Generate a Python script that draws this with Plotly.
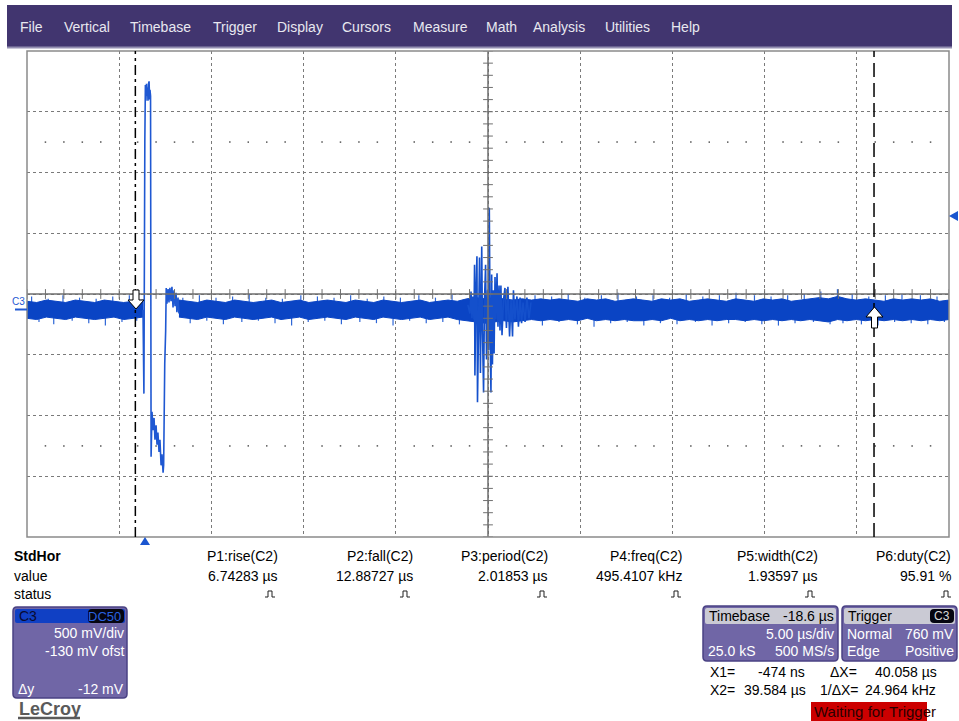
import numpy as np
import plotly.graph_objects as go

W, H = 959, 721

# ---------------- data ----------------
t_range = [-6.35, 43.65]          # µs, 5 µs/div, 10 div
v_range = [-1.87, 2.13]           # V, 500 mV/div, -130 mV offset
v_center = 0.13
t_center = 18.65

# baseline noise core envelope before the pulse
hi_A = [0.07, 0.06, 0.08, 0.07, 0.06, 0.08, 0.07, 0.06, 0.08, 0.07, 0.06, 0.07, 0.08]
lo_A = [-0.07, -0.08, -0.06, -0.07, -0.08, -0.06, -0.07, -0.08, -0.07, -0.06, -0.08, -0.07, -0.06]
tA_start, tA_end = -6.35, -0.06

# baseline noise core envelope after the pulse
hi_B = [0.08, 0.07, 0.06, 0.08, 0.07, 0.06, 0.08, 0.07, 0.06, 0.07,
        0.08, 0.06, 0.07, 0.08, 0.06, 0.07, 0.08, 0.07, 0.06, 0.08,
        0.07, 0.06, 0.08, 0.07, 0.06, 0.07, 0.08, 0.06, 0.07, 0.08,
        0.07, 0.09, 0.10, 0.09, 0.10, 0.09, 0.08, 0.09, 0.08, 0.09,
        0.08, 0.09, 0.08, 0.07, 0.09, 0.08, 0.09, 0.07, 0.08, 0.09,
        0.08, 0.07, 0.09, 0.08, 0.09, 0.07, 0.08, 0.09, 0.08, 0.07,
        0.09, 0.08, 0.07, 0.09, 0.08, 0.09, 0.07, 0.08, 0.09, 0.10,
        0.09, 0.11, 0.09, 0.08, 0.09, 0.08, 0.07, 0.09, 0.08, 0.09,
        0.08, 0.09, 0.07, 0.08]
lo_B = [-0.06, -0.07, -0.08, -0.06, -0.07, -0.08, -0.06, -0.07, -0.08, -0.07,
        -0.06, -0.08, -0.07, -0.06, -0.08, -0.07, -0.06, -0.07, -0.08, -0.06,
        -0.07, -0.08, -0.06, -0.07, -0.08, -0.07, -0.06, -0.08, -0.07, -0.06,
        -0.08, -0.09, -0.10, -0.11, -0.10, -0.09, -0.10, -0.09, -0.08, -0.09,
        -0.08, -0.09, -0.08, -0.09, -0.07, -0.09, -0.08, -0.09, -0.08, -0.09,
        -0.09, -0.08, -0.09, -0.07, -0.09, -0.08, -0.09, -0.08, -0.09, -0.08,
        -0.08, -0.09, -0.08, -0.09, -0.08, -0.09, -0.08, -0.09, -0.08, -0.09,
        -0.10, -0.08, -0.09, -0.08, -0.09, -0.08, -0.09, -0.08, -0.09, -0.08,
        -0.09, -0.08, -0.09, -0.08]
tB_start, tB_end = 1.89, 43.65

# individual noise spikes poking out of the band
spike_t = [-6.1, -5.7, -5.2, -4.9, -4.4, -3.9, -3.5, -3.0, -2.6, -2.1, -1.7, -1.2, -0.8, -0.4,
           2.1, 2.5, 3.0, 3.4, 3.9, 4.3, 4.8, 5.3, 5.7, 6.2, 6.6, 7.1, 7.5, 8.0, 8.5, 8.9, 9.4,
           9.8, 10.3, 10.7, 11.2, 11.7, 12.1, 12.6, 13.0, 13.5, 13.9, 14.4, 14.9, 15.3, 15.8,
           16.2, 16.7, 17.1,
           21.2, 21.6, 22.1, 22.5, 23.0, 23.5, 23.9, 24.4, 24.8, 25.3, 25.7, 26.2, 26.7, 27.1,
           27.6, 28.0, 28.5, 28.9, 29.4, 29.9, 30.3, 30.8, 31.2, 31.7, 32.1, 32.6, 33.1, 33.5,
           34.0, 34.4, 34.9, 35.3, 35.8, 36.3, 36.7, 37.2, 37.6, 37.9, 38.4, 38.9, 39.3, 39.8,
           40.2, 40.7, 41.1, 41.6, 42.1, 42.5, 43.0, 43.4]
spike_v = [0.11, -0.10, 0.09, -0.12, 0.12, -0.09, 0.10, -0.11, 0.09, -0.13, 0.11, -0.10, 0.12, -0.09,
           0.10, -0.11, 0.12, -0.09, 0.10, -0.12, 0.11, -0.10, 0.13, -0.09, 0.10, -0.11, 0.09,
           -0.13, 0.12, -0.10, 0.11, -0.09, 0.10, -0.12, 0.12, -0.10, 0.09, -0.11, 0.11, -0.13,
           0.10, -0.09, 0.12, -0.11, 0.10, -0.10, 0.13, -0.12,
           0.12, -0.13, 0.11, -0.10, 0.13, -0.12, 0.10, -0.14, 0.12, -0.11, 0.14, -0.10, 0.11,
           -0.13, 0.12, -0.11, 0.10, -0.12, 0.13, -0.10, 0.11, -0.13, 0.12, -0.11, 0.14, -0.10,
           0.12, -0.12, 0.11, -0.13, 0.12, -0.11, 0.13, -0.10, 0.15, -0.12, 0.17, -0.11, 0.13,
           -0.12, 0.11, -0.13, 0.12, -0.10, 0.13, -0.11, 0.12, -0.12, 0.11, -0.10]

# main pulse around the trigger
pulse_t = [-0.06, -0.01, 0.04, 0.07, 0.10, 0.13, 0.16, 0.19, 0.21, 0.24, 0.27, 0.30, 0.32, 0.35,
           0.38, 0.43, 0.48, 0.54, 0.59, 0.65, 0.70, 0.75, 0.81, 0.86, 0.92, 0.97, 1.03, 1.06,
           1.09, 1.12, 1.17, 1.20, 1.24, 1.30, 1.35, 1.40, 1.46, 1.51, 1.57, 1.62, 1.68, 1.73,
           1.78, 1.84, 1.89]
pulse_v = [0.00, -0.69, 1.38, 1.85, 1.72, 1.86, 1.76, 1.83, 1.72, 1.86, 1.88, 1.73, 1.81, 1.76,
           -1.21, -0.84, -0.99, -0.89, -1.07, -0.95, -1.11, -1.01, -1.17, -1.07, -1.28, -1.19, -1.34, -1.28,
           -0.80, -0.44, -0.17, 0.18, 0.05, 0.17, 0.06, 0.18, 0.07, 0.19, 0.02, 0.16, 0.03, 0.14,
           -0.02, 0.10, -0.03]

# ringing burst near the screen centre
ring_t = [17.56, 17.67, 17.73, 17.78, 17.83, 17.89, 17.92, 17.94, 18.00, 18.05, 18.08, 18.13, 18.19,
          18.24, 18.28, 18.31, 18.35, 18.41, 18.46, 18.52, 18.57, 18.63, 18.68, 18.72, 18.77, 18.81,
          18.85, 18.89, 18.94, 18.98, 19.03, 19.08, 19.14, 19.19, 19.25, 19.30, 19.35, 19.41, 19.49,
          19.57, 19.65, 19.73, 19.82, 19.90, 19.98, 20.03, 20.11, 20.22, 20.30, 20.39, 20.47, 20.55,
          20.66, 20.76, 20.87, 20.98]
ring_v = [0.04, -0.03, 0.15, -0.07, 0.11, -0.08, 0.37, -0.54, 0.16, 0.44, -0.76, 0.08, 0.43,
          -0.52, 0.08, 0.52, -0.17, -0.68, 0.08, 0.37, -0.41, 0.16, -0.33, 0.84, -0.25, -0.68,
          0.29, -0.45, 0.16, -0.36, 0.27, -0.08, 0.30, -0.14, 0.20, -0.17, 0.20, -0.21, 0.08,
          0.18, -0.15, 0.19, -0.22, 0.08, -0.22, 0.16, -0.08, 0.11, -0.14, 0.10, -0.11, 0.06,
          -0.10, 0.10, -0.07, 0.06]

cursor_x1 = -0.474
cursor_x2 = 39.584
trigger_level = 0.76

menu_items = ["File", "Vertical", "Timebase", "Trigger", "Display", "Cursors", "Measure",
              "Math", "Analysis", "Utilities", "Help"]
menu_x = [18, 62, 128, 211, 275, 340, 411, 484, 531, 603, 669]

meas_names = ["P1:rise(C2)", "P2:fall(C2)", "P3:period(C2)", "P4:freq(C2)", "P5:width(C2)", "P6:duty(C2)"]
meas_values = ["6.74283 µs", "12.88727 µs", "2.01853 µs", "495.4107 kHz", "1.93597 µs", "95.91 %"]
meas_right = [280, 415, 550, 684, 820, 953]
meas_icon = [270, 405, 542, 676, 810, 946]

# ---------------- helpers ----------------
X0, X1, Y0, Y1 = 27, 949, 51, 537   # plot area in pixels
FONT = "Liberation Sans, Arial, sans-serif"
BLUE = "#0a44c4"
BLUE_LIGHT = "#2e66d6"


def px(x):
    return x / W


def py(y):
    return 1 - y / H


def pt(x, y):
    return f"{px(x):.5f},{py(y):.5f}"


def rrect(x0, y0, x1, y1, r):
    return (f"M{pt(x0+r, y0)} L{pt(x1-r, y0)} Q{pt(x1, y0)} {pt(x1, y0+r)} "
            f"L{pt(x1, y1-r)} Q{pt(x1, y1)} {pt(x1-r, y1)} L{pt(x0+r, y1)} "
            f"Q{pt(x0, y1)} {pt(x0, y1-r)} L{pt(x0, y0+r)} Q{pt(x0, y0)} {pt(x0+r, y0)} Z")


def poly(points):
    return "M" + " L".join(pt(x, y) for x, y in points) + " Z"


fig = go.Figure()

# noise spikes (drawn first, the dense band sits on top)
sx, sy = [], []
for t, v in zip(spike_t, spike_v):
    sx += [t, t, None]
    sy += [0.0, v, None]
fig.add_trace(go.Scatter(x=sx, y=sy, mode="lines", line=dict(color=BLUE_LIGHT, width=1.2),
                         hoverinfo="skip", showlegend=False))

# noise band before/after pulse
tA = np.linspace(tA_start, tA_end, len(hi_A))
fig.add_trace(go.Scatter(x=list(tA) + list(tA[::-1]), y=hi_A + lo_A[::-1], fill="toself",
                         mode="lines", line=dict(color=BLUE, width=1), fillcolor=BLUE,
                         hoverinfo="skip", showlegend=False))
tB = np.linspace(tB_start, tB_end, len(hi_B))
fig.add_trace(go.Scatter(x=list(tB) + list(tB[::-1]), y=hi_B + lo_B[::-1], fill="toself",
                         mode="lines", line=dict(color=BLUE, width=1), fillcolor=BLUE,
                         hoverinfo="skip", showlegend=False))
fig.add_trace(go.Scatter(x=pulse_t, y=pulse_v, mode="lines",
                         line=dict(color="#1f58d2", width=1.6), hoverinfo="skip", showlegend=False))
fig.add_trace(go.Scatter(x=ring_t, y=ring_v, mode="lines",
                         line=dict(color="#1450cc", width=1.6), hoverinfo="skip", showlegend=False))

# graticule ticks on the centre axes and dotted rows at ±2.5 div
tick_t = t_range[0] + np.arange(0, 51) * 1.0
tick_v = v_range[0] + np.arange(0, 41) * 0.1
fig.add_trace(go.Scatter(x=tick_t, y=[v_center] * len(tick_t), mode="markers",
                         marker=dict(symbol="line-ns", size=7, line=dict(color="#707070", width=1)),
                         hoverinfo="skip", showlegend=False))
fig.add_trace(go.Scatter(x=[t_center] * len(tick_v), y=tick_v, mode="markers",
                         marker=dict(symbol="line-ew", size=7, line=dict(color="#707070", width=1)),
                         hoverinfo="skip", showlegend=False))
dot_t = [t for t in tick_t if abs(((t - t_range[0]) / 5.0) - round((t - t_range[0]) / 5.0)) > 0.01]
for vv in (v_center + 1.25, v_center - 1.25):
    fig.add_trace(go.Scatter(x=dot_t, y=[vv] * len(dot_t), mode="markers",
                             marker=dict(symbol="square", size=1.5, color="#555555"),
                             hoverinfo="skip", showlegend=False))

shapes = []
# menu bar
shapes.append(dict(type="rect", xref="paper", yref="paper", x0=px(7), x1=px(952), y0=py(47), y1=py(5),
                   fillcolor="#41356f", line=dict(width=0), layer="below"))
shapes.append(dict(type="line", xref="paper", yref="paper", x0=px(7), x1=px(952), y0=py(47.5), y1=py(47.5),
                   line=dict(color="#948fb2", width=2)))
# centre axes
shapes.append(dict(type="line", xref="x", yref="paper", x0=t_center, x1=t_center, y0=py(Y1), y1=py(Y0),
                   line=dict(color="#6e6e6e", width=1.5)))
shapes.append(dict(type="line", xref="paper", yref="y", x0=px(X0), x1=px(X1), y0=v_center, y1=v_center,
                   line=dict(color="#6e6e6e", width=1.5)))
# border
shapes.append(dict(type="rect", xref="paper", yref="paper", x0=px(X0), x1=px(X1), y0=py(Y1), y1=py(Y0),
                   line=dict(color="#8a8a8a", width=1.5)))
# cursors
shapes.append(dict(type="line", xref="x", yref="paper", x0=cursor_x1, x1=cursor_x1, y0=py(Y1), y1=py(Y0),
                   line=dict(color="black", width=1.5, dash="10px,4px,3px,4px")))
shapes.append(dict(type="line", xref="x", yref="paper", x0=cursor_x2, x1=cursor_x2, y0=py(Y1), y1=py(Y0),
                   line=dict(color="black", width=1.5, dash="14px,6px")))
# cursor arrows
shapes.append(dict(type="path", xref="paper", yref="paper",
                   path=poly([(133, 290), (139, 290), (139, 300), (144, 300), (136, 309), (128, 300), (133, 300)]),
                   fillcolor="white", line=dict(color="black", width=1)))
shapes.append(dict(type="path", xref="paper", yref="paper",
                   path=poly([(874.5, 307), (883, 317), (877.5, 317), (877.5, 328), (871.5, 328), (871.5, 317), (866, 317)]),
                   fillcolor="white", line=dict(color="black", width=1)))
# trigger markers
shapes.append(dict(type="path", xref="paper", yref="paper", path=poly([(140, 545), (150, 545), (145, 537)]),
                   fillcolor="#1a56d0", line=dict(width=0)))
shapes.append(dict(type="path", xref="paper", yref="paper", path=poly([(958, 211), (958, 221), (949, 216)]),
                   fillcolor="#1a56d0", line=dict(width=0)))
# C3 ground marker
shapes.append(dict(type="line", xref="paper", yref="paper", x0=px(15), x1=px(27), y0=py(309.5), y1=py(309.5),
                   line=dict(color="#1f58d2", width=2)))

# status icons
for xi in meas_icon:
    yi = 594
    shapes.append(dict(type="path", xref="paper", yref="paper",
                       path="M" + " L".join(pt(x, y) for x, y in
                                            [(xi - 5, yi + 3), (xi - 2, yi + 3), (xi - 2, yi - 3), (xi + 2, yi - 3),
                                             (xi + 2, yi + 3), (xi + 5, yi + 3)]),
                       line=dict(color="#202020", width=1)))

PANEL = "#7066a6"
PANEL_EDGE = "#4a4284"
# C3 panel
shapes.append(dict(type="path", xref="paper", yref="paper", path=rrect(13, 607, 127, 698, 4),
                   fillcolor=PANEL, line=dict(color=PANEL_EDGE, width=1.5)))
shapes.append(dict(type="path", xref="paper", yref="paper", path=rrect(15, 609, 125, 623, 2),
                   fillcolor="#1040c4", line=dict(width=0)))
shapes.append(dict(type="path", xref="paper", yref="paper", path=rrect(88, 609, 124, 623, 4),
                   fillcolor="#050510", line=dict(width=0)))
# Timebase panel
shapes.append(dict(type="path", xref="paper", yref="paper", path=rrect(703, 606, 838, 661, 4),
                   fillcolor=PANEL, line=dict(color=PANEL_EDGE, width=1.5)))
shapes.append(dict(type="path", xref="paper", yref="paper", path=rrect(705, 608, 836, 624, 2),
                   fillcolor="#cacad4", line=dict(width=0)))
# Trigger panel
shapes.append(dict(type="path", xref="paper", yref="paper", path=rrect(842, 606, 957, 661, 4),
                   fillcolor=PANEL, line=dict(color=PANEL_EDGE, width=1.5)))
shapes.append(dict(type="path", xref="paper", yref="paper", path=rrect(844, 608, 955, 624, 2),
                   fillcolor="#cacad4", line=dict(width=0)))
shapes.append(dict(type="path", xref="paper", yref="paper", path=rrect(930, 609, 954, 623, 4),
                   fillcolor="#050510", line=dict(width=0)))
# waiting for trigger box
shapes.append(dict(type="rect", xref="paper", yref="paper", x0=px(811), x1=px(927), y0=py(721), y1=py(702),
                   fillcolor="#cc0000", line=dict(width=0)))
# LeCroy underline
shapes.append(dict(type="line", xref="paper", yref="paper", x0=px(18), x1=px(80), y0=py(718), y1=py(718),
                   line=dict(color="#5a5a5a", width=2.5)))

ann = []


def text(s, x, y, size=14, color="black", anchor="left", bold=False, family=FONT):
    if bold:
        s = f"<b>{s}</b>"
    ann.append(dict(text=s, x=px(x), y=py(y), xref="paper", yref="paper", showarrow=False,
                    xanchor=anchor, yanchor="middle", font=dict(size=size, color=color, family=family)))


for name, xm in zip(menu_items, menu_x):
    text(name, xm, 27, size=14, color="#e8e8f0")

text("StdHor", 12, 556, bold=True)
text("value", 12, 576)
text("status", 12, 594)
for name, val, xr in zip(meas_names, meas_values, meas_right):
    text(name, xr, 556, anchor="right")
    text(val, xr, 576, anchor="right")

text("C3", 18, 301, size=10, color="#1f58d2", anchor="center")

# C3 panel text
text("C3", 17, 616, size=14, color="#0a0a30")
text("DC50", 123, 616, size=13, color="#2a62e0", anchor="right")
text("500 mV/div", 126, 633, color="white", anchor="right")
text("-130 mV ofst", 126, 651, color="white", anchor="right")
text("Δy", 16, 689, color="white")
text("-12 mV", 126, 689, color="white", anchor="right")
text("<b>LeCroy</b>", 17, 709, size=18, color="#5a5a5a")

# Timebase panel text
text("Timebase", 707, 616, color="black")
text("-18.6 µs", 836, 616, color="black", anchor="right")
text("5.00 µs/div", 836, 634, color="white", anchor="right")
text("25.0 kS", 706, 651, color="white")
text("500 MS/s", 836, 651, color="white", anchor="right")
# Trigger panel text
text("Trigger", 846, 616, color="black")
text("C3", 942, 616, size=12, color="#d8d8d8", anchor="center")
text("Normal", 845, 634, color="white")
text("760 mV", 956, 634, color="white", anchor="right")
text("Edge", 845, 651, color="white")
text("Positive", 956, 651, color="white", anchor="right")

# cursor readouts
text("X1=", 708, 672)
text("-474 ns", 807, 672, anchor="right")
text("ΔX=", 828, 672)
text("40.058 µs", 939, 672, anchor="right")
text("X2=", 708, 690)
text("39.584 µs", 808, 690, anchor="right")
text("1/ΔX=", 818, 690)
text("24.964 kHz", 938, 690, anchor="right")
text("Waiting for Trigger", 812, 711, size=15, color="#2a0000")

fig.update_layout(
    width=W, height=H, margin=dict(l=0, r=0, t=0, b=0),
    paper_bgcolor="white", plot_bgcolor="white",
    xaxis=dict(domain=[px(X0), px(X1)], range=t_range, tick0=t_range[0], dtick=5,
               showgrid=True, gridcolor="#7a7a7a", gridwidth=1, griddash="dot",
               showticklabels=False, zeroline=False, ticks="", fixedrange=True),
    yaxis=dict(domain=[py(Y1), py(Y0)], range=v_range, tick0=v_range[0], dtick=0.5,
               showgrid=True, gridcolor="#7a7a7a", gridwidth=1, griddash="dot",
               showticklabels=False, zeroline=False, ticks="", fixedrange=True),
    shapes=shapes, annotations=ann, showlegend=False,
)

fig.write_html("out.html", config={"displayModeBar": False})
